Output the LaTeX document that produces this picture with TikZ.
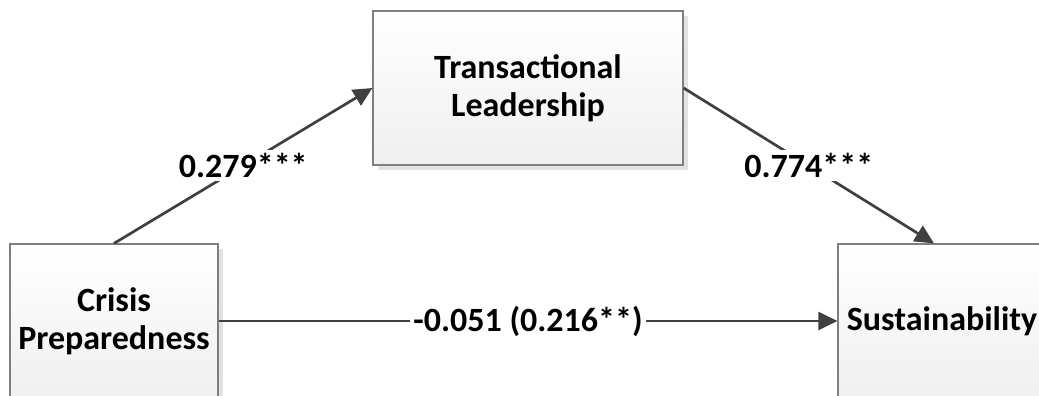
\documentclass[tikz,border=0pt]{standalone}
\usepackage{fontspec}
\setmainfont{Carlito}
\usetikzlibrary{arrows.meta,positioning,shadows}
\definecolor{BoxLine}{HTML}{7F7F7F}
\definecolor{ArrowGray}{HTML}{404040}
\definecolor{ShadowGray}{HTML}{E2E2E2}

\begin{document}
\begin{tikzpicture}[x=1pt,y=-1pt,
  var/.style={draw=BoxLine, line width=1.2pt, top color=white, bottom color=black!6, general shadow={fill=ShadowGray, shadow xshift=5pt, shadow yshift=-5pt}, minimum height=154pt, align=center, font=\fontsize{34}{38}\selectfont\bfseries, inner sep=0pt},
  arr/.style={-{Triangle[length=19pt,width=18pt]}, line width=2.7pt, ArrowGray},
  coef/.style={fill=white, text=black, inner sep=3pt, font=\fontsize{34}{38}\selectfont\bfseries}
]
\useasboundingbox (0,0) rectangle (1039,396);
\node[var, minimum width=208pt] (crisis) at (114,321) {Crisis\\Preparedness};
\node[var, minimum width=310pt] (trans) at (528,88) {Transactional\\Leadership};
\node[var, minimum width=208pt] (sust) at (942,321) {Sustainability};
\draw[arr] (crisis.north) -- node[coef] {0.279***} (trans.west);
\draw[arr] (trans.east) -- node[coef] {0.774***} ([xshift=-8pt]sust.north);
\draw[arr] (crisis.east) -- node[coef] {-0.051 (0.216**)} (sust.west);
\end{tikzpicture}
\end{document}
